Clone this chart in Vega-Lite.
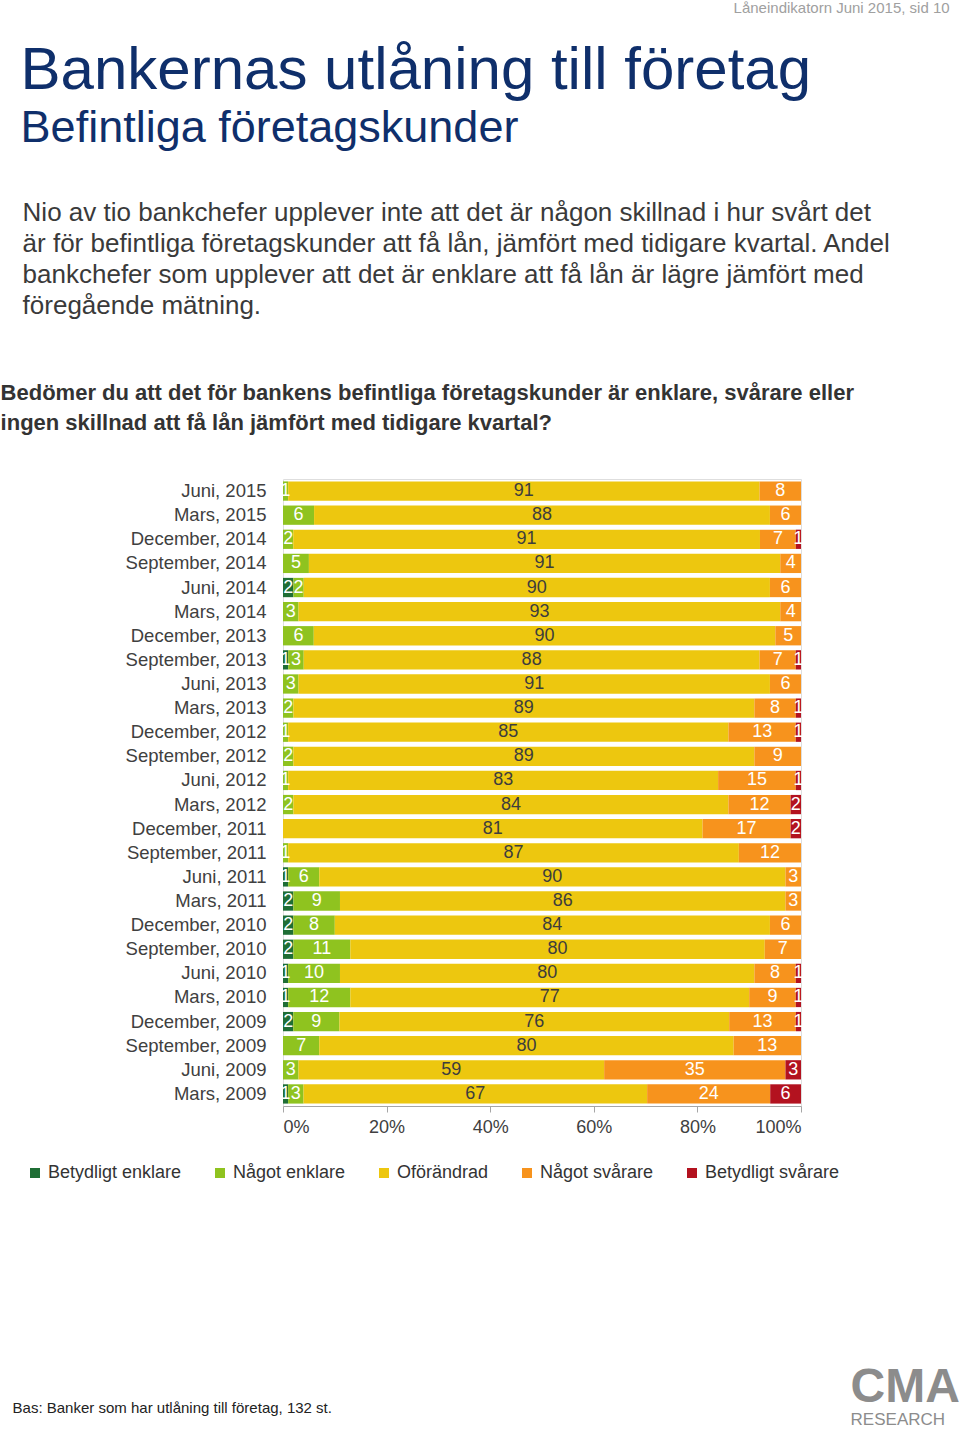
{
  "$schema": "https://vega.github.io/schema/vega-lite/v6.json",
  "padding": {"left": 0, "top": 0, "right": 0, "bottom": 0},
  "background": "#ffffff",
  "config": {
    "font": "Liberation Sans",
    "view": {"stroke": "#dedede", "strokeWidth": 1}
  },
  "title": {
    "text": "CMA",
    "subtitle": "RESEARCH",
    "orient": "bottom",
    "anchor": "start",
    "frame": "bounds",
    "dx": 850,
    "offset": -52,
    "font": "Liberation Sans",
    "fontSize": 48,
    "fontWeight": "bold",
    "color": "#8c8c8c",
    "subtitleFont": "Liberation Sans",
    "subtitleFontSize": 17,
    "subtitleColor": "#8c8c8c",
    "subtitlePadding": 0
  },
  "vconcat": [
    {
      "title": {
        "text": "Låneindikatorn Juni 2015, sid 10",
        "orient": "top",
        "anchor": "start",
        "frame": "bounds",
        "dx": 733,
        "offset": 25,
        "font": "Liberation Sans",
        "fontSize": 15,
        "fontWeight": "normal",
        "color": "#a0a0a0"
      },
      "vconcat": [
        {
          "title": {
            "text": "Bankernas utlåning till företag",
            "subtitle": "Befintliga företagskunder",
            "orient": "top",
            "anchor": "start",
            "frame": "bounds",
            "dx": 20,
            "offset": 48,
            "font": "Liberation Sans",
            "fontSize": 60,
            "fontWeight": "normal",
            "color": "#0f2f6b",
            "subtitleFont": "Liberation Sans",
            "subtitleFontSize": 45,
            "subtitleColor": "#0f2f6b",
            "subtitlePadding": 4
          },
          "vconcat": [
            {
              "title": {
                "text": [
                  "Nio av tio bankchefer upplever inte att det är någon skillnad i hur svårt det",
                  "är för befintliga företagskunder att få lån, jämfört med tidigare kvartal. Andel",
                  "bankchefer som upplever att det är enklare att få lån är lägre jämfört med",
                  "föregående mätning."
                ],
                "orient": "top",
                "anchor": "start",
                "frame": "bounds",
                "dx": 22,
                "offset": 62,
                "font": "Liberation Sans",
                "fontSize": 26,
                "lineHeight": 31.3,
                "fontWeight": "normal",
                "color": "#3a3a3a"
              },
              "vconcat": [
                {
                  "title": {
                    "text": "Bas: Banker som har utlåning till företag, 132 st.",
                    "orient": "bottom",
                    "anchor": "start",
                    "frame": "bounds",
                    "dx": 12,
                    "offset": 264,
                    "font": "Liberation Sans",
                    "fontSize": 15,
                    "fontWeight": "normal",
                    "color": "#222222"
                  },
                  "vconcat": [
                    {
                      "title": {
                        "text": [
                          "Bedömer du att det för bankens befintliga företagskunder är enklare, svårare eller",
                          "ingen skillnad att få lån jämfört med tidigare kvartal?"
                        ],
                        "orient": "top",
                        "anchor": "start",
                        "frame": "bounds",
                        "dx": -124,
                        "offset": 44,
                        "font": "Liberation Sans",
                        "fontSize": 22,
                        "lineHeight": 30,
                        "fontWeight": "bold",
                        "color": "#333333"
                      },
                      "vconcat": [
                        {
                          "width": 518,
                          "height": 627,
                          "data": {
                            "values": [
                              {"p": "Juni, 2015", "c": "Något enklare", "k": 2, "v": 1},
                              {"p": "Juni, 2015", "c": "Oförändrad", "k": 3, "v": 91},
                              {"p": "Juni, 2015", "c": "Något svårare", "k": 4, "v": 8},
                              {"p": "Mars, 2015", "c": "Något enklare", "k": 2, "v": 6},
                              {"p": "Mars, 2015", "c": "Oförändrad", "k": 3, "v": 88},
                              {"p": "Mars, 2015", "c": "Något svårare", "k": 4, "v": 6},
                              {"p": "December, 2014", "c": "Något enklare", "k": 2, "v": 2},
                              {"p": "December, 2014", "c": "Oförändrad", "k": 3, "v": 91},
                              {"p": "December, 2014", "c": "Något svårare", "k": 4, "v": 7},
                              {"p": "December, 2014", "c": "Betydligt svårare", "k": 5, "v": 1},
                              {"p": "September, 2014", "c": "Något enklare", "k": 2, "v": 5},
                              {"p": "September, 2014", "c": "Oförändrad", "k": 3, "v": 91},
                              {"p": "September, 2014", "c": "Något svårare", "k": 4, "v": 4},
                              {"p": "Juni, 2014", "c": "Betydligt enklare", "k": 1, "v": 2},
                              {"p": "Juni, 2014", "c": "Något enklare", "k": 2, "v": 2},
                              {"p": "Juni, 2014", "c": "Oförändrad", "k": 3, "v": 90},
                              {"p": "Juni, 2014", "c": "Något svårare", "k": 4, "v": 6},
                              {"p": "Mars, 2014", "c": "Något enklare", "k": 2, "v": 3},
                              {"p": "Mars, 2014", "c": "Oförändrad", "k": 3, "v": 93},
                              {"p": "Mars, 2014", "c": "Något svårare", "k": 4, "v": 4},
                              {"p": "December, 2013", "c": "Något enklare", "k": 2, "v": 6},
                              {"p": "December, 2013", "c": "Oförändrad", "k": 3, "v": 90},
                              {"p": "December, 2013", "c": "Något svårare", "k": 4, "v": 5},
                              {"p": "September, 2013", "c": "Betydligt enklare", "k": 1, "v": 1},
                              {"p": "September, 2013", "c": "Något enklare", "k": 2, "v": 3},
                              {"p": "September, 2013", "c": "Oförändrad", "k": 3, "v": 88},
                              {"p": "September, 2013", "c": "Något svårare", "k": 4, "v": 7},
                              {"p": "September, 2013", "c": "Betydligt svårare", "k": 5, "v": 1},
                              {"p": "Juni, 2013", "c": "Något enklare", "k": 2, "v": 3},
                              {"p": "Juni, 2013", "c": "Oförändrad", "k": 3, "v": 91},
                              {"p": "Juni, 2013", "c": "Något svårare", "k": 4, "v": 6},
                              {"p": "Mars, 2013", "c": "Något enklare", "k": 2, "v": 2},
                              {"p": "Mars, 2013", "c": "Oförändrad", "k": 3, "v": 89},
                              {"p": "Mars, 2013", "c": "Något svårare", "k": 4, "v": 8},
                              {"p": "Mars, 2013", "c": "Betydligt svårare", "k": 5, "v": 1},
                              {"p": "December, 2012", "c": "Något enklare", "k": 2, "v": 1},
                              {"p": "December, 2012", "c": "Oförändrad", "k": 3, "v": 85},
                              {"p": "December, 2012", "c": "Något svårare", "k": 4, "v": 13},
                              {"p": "December, 2012", "c": "Betydligt svårare", "k": 5, "v": 1},
                              {"p": "September, 2012", "c": "Något enklare", "k": 2, "v": 2},
                              {"p": "September, 2012", "c": "Oförändrad", "k": 3, "v": 89},
                              {"p": "September, 2012", "c": "Något svårare", "k": 4, "v": 9},
                              {"p": "Juni, 2012", "c": "Något enklare", "k": 2, "v": 1},
                              {"p": "Juni, 2012", "c": "Oförändrad", "k": 3, "v": 83},
                              {"p": "Juni, 2012", "c": "Något svårare", "k": 4, "v": 15},
                              {"p": "Juni, 2012", "c": "Betydligt svårare", "k": 5, "v": 1},
                              {"p": "Mars, 2012", "c": "Något enklare", "k": 2, "v": 2},
                              {"p": "Mars, 2012", "c": "Oförändrad", "k": 3, "v": 84},
                              {"p": "Mars, 2012", "c": "Något svårare", "k": 4, "v": 12},
                              {"p": "Mars, 2012", "c": "Betydligt svårare", "k": 5, "v": 2},
                              {"p": "December, 2011", "c": "Oförändrad", "k": 3, "v": 81},
                              {"p": "December, 2011", "c": "Något svårare", "k": 4, "v": 17},
                              {"p": "December, 2011", "c": "Betydligt svårare", "k": 5, "v": 2},
                              {"p": "September, 2011", "c": "Något enklare", "k": 2, "v": 1},
                              {"p": "September, 2011", "c": "Oförändrad", "k": 3, "v": 87},
                              {"p": "September, 2011", "c": "Något svårare", "k": 4, "v": 12},
                              {"p": "Juni, 2011", "c": "Betydligt enklare", "k": 1, "v": 1},
                              {"p": "Juni, 2011", "c": "Något enklare", "k": 2, "v": 6},
                              {"p": "Juni, 2011", "c": "Oförändrad", "k": 3, "v": 90},
                              {"p": "Juni, 2011", "c": "Något svårare", "k": 4, "v": 3},
                              {"p": "Mars, 2011", "c": "Betydligt enklare", "k": 1, "v": 2},
                              {"p": "Mars, 2011", "c": "Något enklare", "k": 2, "v": 9},
                              {"p": "Mars, 2011", "c": "Oförändrad", "k": 3, "v": 86},
                              {"p": "Mars, 2011", "c": "Något svårare", "k": 4, "v": 3},
                              {"p": "December, 2010", "c": "Betydligt enklare", "k": 1, "v": 2},
                              {"p": "December, 2010", "c": "Något enklare", "k": 2, "v": 8},
                              {"p": "December, 2010", "c": "Oförändrad", "k": 3, "v": 84},
                              {"p": "December, 2010", "c": "Något svårare", "k": 4, "v": 6},
                              {"p": "September, 2010", "c": "Betydligt enklare", "k": 1, "v": 2},
                              {"p": "September, 2010", "c": "Något enklare", "k": 2, "v": 11},
                              {"p": "September, 2010", "c": "Oförändrad", "k": 3, "v": 80},
                              {"p": "September, 2010", "c": "Något svårare", "k": 4, "v": 7},
                              {"p": "Juni, 2010", "c": "Betydligt enklare", "k": 1, "v": 1},
                              {"p": "Juni, 2010", "c": "Något enklare", "k": 2, "v": 10},
                              {"p": "Juni, 2010", "c": "Oförändrad", "k": 3, "v": 80},
                              {"p": "Juni, 2010", "c": "Något svårare", "k": 4, "v": 8},
                              {"p": "Juni, 2010", "c": "Betydligt svårare", "k": 5, "v": 1},
                              {"p": "Mars, 2010", "c": "Betydligt enklare", "k": 1, "v": 1},
                              {"p": "Mars, 2010", "c": "Något enklare", "k": 2, "v": 12},
                              {"p": "Mars, 2010", "c": "Oförändrad", "k": 3, "v": 77},
                              {"p": "Mars, 2010", "c": "Något svårare", "k": 4, "v": 9},
                              {"p": "Mars, 2010", "c": "Betydligt svårare", "k": 5, "v": 1},
                              {"p": "December, 2009", "c": "Betydligt enklare", "k": 1, "v": 2},
                              {"p": "December, 2009", "c": "Något enklare", "k": 2, "v": 9},
                              {"p": "December, 2009", "c": "Oförändrad", "k": 3, "v": 76},
                              {"p": "December, 2009", "c": "Något svårare", "k": 4, "v": 13},
                              {"p": "December, 2009", "c": "Betydligt svårare", "k": 5, "v": 1},
                              {"p": "September, 2009", "c": "Något enklare", "k": 2, "v": 7},
                              {"p": "September, 2009", "c": "Oförändrad", "k": 3, "v": 80},
                              {"p": "September, 2009", "c": "Något svårare", "k": 4, "v": 13},
                              {"p": "Juni, 2009", "c": "Något enklare", "k": 2, "v": 3},
                              {"p": "Juni, 2009", "c": "Oförändrad", "k": 3, "v": 59},
                              {"p": "Juni, 2009", "c": "Något svårare", "k": 4, "v": 35},
                              {"p": "Juni, 2009", "c": "Betydligt svårare", "k": 5, "v": 3},
                              {"p": "Mars, 2009", "c": "Betydligt enklare", "k": 1, "v": 1},
                              {"p": "Mars, 2009", "c": "Något enklare", "k": 2, "v": 3},
                              {"p": "Mars, 2009", "c": "Oförändrad", "k": 3, "v": 67},
                              {"p": "Mars, 2009", "c": "Något svårare", "k": 4, "v": 24},
                              {"p": "Mars, 2009", "c": "Betydligt svårare", "k": 5, "v": 6}
                            ]
                          },
                          "encoding": {
                            "y": {
                              "field": "p",
                              "type": "nominal",
                              "sort": ["Juni, 2015", "Mars, 2015", "December, 2014", "September, 2014", "Juni, 2014", "Mars, 2014", "December, 2013", "September, 2013", "Juni, 2013", "Mars, 2013", "December, 2012", "September, 2012", "Juni, 2012", "Mars, 2012", "December, 2011", "September, 2011", "Juni, 2011", "Mars, 2011", "December, 2010", "September, 2010", "Juni, 2010", "Mars, 2010", "December, 2009", "September, 2009", "Juni, 2009", "Mars, 2009"],
                              "scale": {"paddingInner": 0.2, "paddingOuter": 0.1},
                              "axis": {
                                "title": null,
                                "domain": false,
                                "ticks": false,
                                "labelPadding": 17,
                                "labelFont": "Liberation Sans",
                                "labelFontSize": 18.5,
                                "labelColor": "#404040"
                              }
                            }
                          },
                          "layer": [
                            {
                              "mark": {"type": "bar"},
                              "encoding": {
                                "x": {
                                  "field": "v",
                                  "type": "quantitative",
                                  "stack": "normalize",
                                  "scale": {"domain": [0, 1]},
                                  "axis": {
                                    "title": null,
                                    "format": ".0%",
                                    "values": [0, 0.2, 0.4, 0.6, 0.8, 1],
                                    "grid": false,
                                    "domainColor": "#a6a6a6",
                                    "tickColor": "#a6a6a6",
                                    "tickSize": 6,
                                    "labelPadding": 6,
                                    "labelFont": "Liberation Sans",
                                    "labelFontSize": 18,
                                    "labelColor": "#404040"
                                  }
                                },
                                "color": {
                                  "field": "c",
                                  "type": "nominal",
                                  "scale": {
                                    "domain": ["Betydligt enklare", "Något enklare", "Oförändrad", "Något svårare", "Betydligt svårare"],
                                    "range": ["#1f6e35", "#8fc31f", "#edc70f", "#f7931d", "#b3121f"]
                                  },
                                  "legend": {
                                    "title": null,
                                    "orient": "none",
                                    "direction": "horizontal",
                                    "legendX": -257,
                                    "legendY": 685,
                                    "symbolType": "square",
                                    "symbolSize": 100,
                                    "symbolStrokeWidth": 0,
                                    "labelFont": "Liberation Sans",
                                    "labelFontSize": 18,
                                    "labelColor": "#333333",
                                    "labelOffset": 4,
                                    "columnPadding": 29
                                  }
                                },
                                "order": {"field": "k", "type": "quantitative"}
                              }
                            },
                            {
                              "mark": {"type": "text", "font": "Liberation Sans", "fontSize": 18, "baseline": "middle", "align": "center"},
                              "encoding": {
                                "x": {"field": "v", "type": "quantitative", "stack": "normalize", "bandPosition": 0.5},
                                "detail": {"field": "c", "type": "nominal"},
                                "order": {"field": "k", "type": "quantitative"},
                                "text": {"field": "v", "type": "quantitative"},
                                "color": {"condition": {"test": "datum.k === 3", "value": "#3d3d3d"}, "value": "#ffffff"}
                              }
                            }
                          ]
                        }
                      ]
                    }
                  ]
                }
              ]
            }
          ]
        }
      ]
    }
  ]
}
